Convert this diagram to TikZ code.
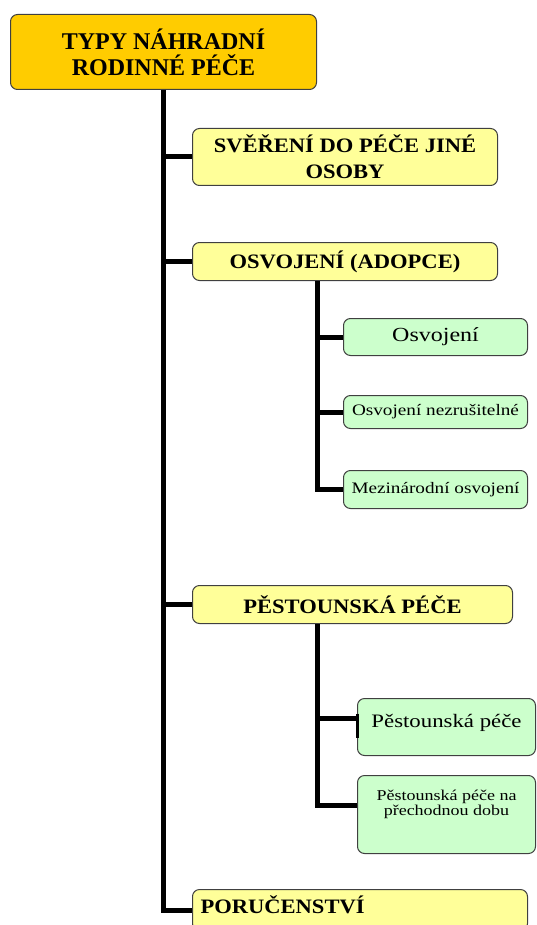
\documentclass[tikz,border=0pt]{standalone}
\usepackage{fontspec}
\setmainfont{Liberation Serif}
\newfontfamily\serifA[FakeStretch=1.1]{Liberation Serif}
\newfontfamily\serifB[FakeStretch=1.2]{Liberation Serif}
\definecolor{gold}{HTML}{FFCC00}
\definecolor{paleyellow}{HTML}{FFFF99}
\definecolor{palegreen}{HTML}{CCFFCC}
\definecolor{edge}{HTML}{404040}
\tikzset{
  basebox/.style={draw=edge, line width=1pt, rounded corners=7pt, inner sep=0pt, anchor=north west},
  titlebox/.style={basebox, fill=gold, align=center, font=\bfseries\fontsize{24}{26}\selectfont},
  ybox/.style={basebox, fill=paleyellow, align=center, font=\serifA\bfseries\fontsize{20.5}{26}\selectfont},
  gbox/.style={basebox, fill=palegreen, font=\serifB},
  trunk/.style={line width=5pt, black}
}
\begin{document}
\begin{tikzpicture}[x=1pt, y=-1pt]
\useasboundingbox (0,0) rectangle (536,925);
\clip (0,0) rectangle (536,925);
% nodes
\node[titlebox, minimum width=306, minimum height=75] (title) at (10,14) {TYPY NÁHRADNÍ\\RODINNÉ PÉČE};
\node[ybox, minimum width=305, minimum height=57] (b1) at (192,128) {SVĚŘENÍ DO PÉČE JINÉ\\OSOBY};
\node[ybox, minimum width=305, minimum height=38] (b2) at (192,242) {OSVOJENÍ (ADOPCE)};
\node[gbox, minimum width=184, minimum height=37, font=\serifB\fontsize{20}{22}\selectfont] (g1) at (343,318) {Osvojení};
\node[gbox, minimum width=184, minimum height=33, font=\serifB\fontsize{16}{18}\selectfont] (g2) at (343,395) {Osvojení nezrušitelné};
\node[gbox, minimum width=184, minimum height=38, font=\serifB\fontsize{16}{18}\selectfont] (g3) at (343,470) {Mezinárodní osvojení};
\node[ybox, minimum width=320, minimum height=38] (b3) at (192,585) {PĚSTOUNSKÁ PÉČE};
\node[gbox, minimum width=178, minimum height=57, text height=29, text depth=28, font=\serifB\fontsize{19}{21}\selectfont] (g4) at (357,698) {Pěstounská péče};
\node[gbox, minimum width=178, minimum height=78, text height=25, text depth=53, font=\serifB\fontsize{15}{14.5}\selectfont] (g5) at (357,775) {\begin{tabular}[t]{@{}c@{}}Pěstounská péče na\\přechodnou dobu\end{tabular}};
\node[ybox, minimum width=335, minimum height=41, text height=24, text depth=17] (poru) at (192,889) {\makebox[319pt][l]{PORUČENSTVÍ}};
% connectors
\coordinate (t2) at ([xshift=125pt]b2.south west);
\coordinate (t3) at ([xshift=125pt]b3.south west);
\coordinate (g4c) at ([yshift=9pt]g4.west);
\coordinate (g5c) at ([yshift=9pt]g5.west);
\draw[trunk] (title.south) |- (poru.west);
\draw[trunk] (title.south |- b1.west) -- (b1.west);
\draw[trunk] (title.south |- b2.west) -- (b2.west);
\draw[trunk] (title.south |- b3.west) -- (b3.west);
\draw[trunk] (t2) |- (g3.west);
\draw[trunk] (t2 |- g1.west) -- (g1.west);
\draw[trunk] (t2 |- g2.west) -- (g2.west);
\draw[trunk] (t3) |- (g5c);
\draw[trunk] (t3 |- g4c) -- (g4c);
\draw[line width=3pt] ([yshift=13.5pt]g4.west) -- ([yshift=-10.5pt]g4.west);
\end{tikzpicture}
\end{document}
